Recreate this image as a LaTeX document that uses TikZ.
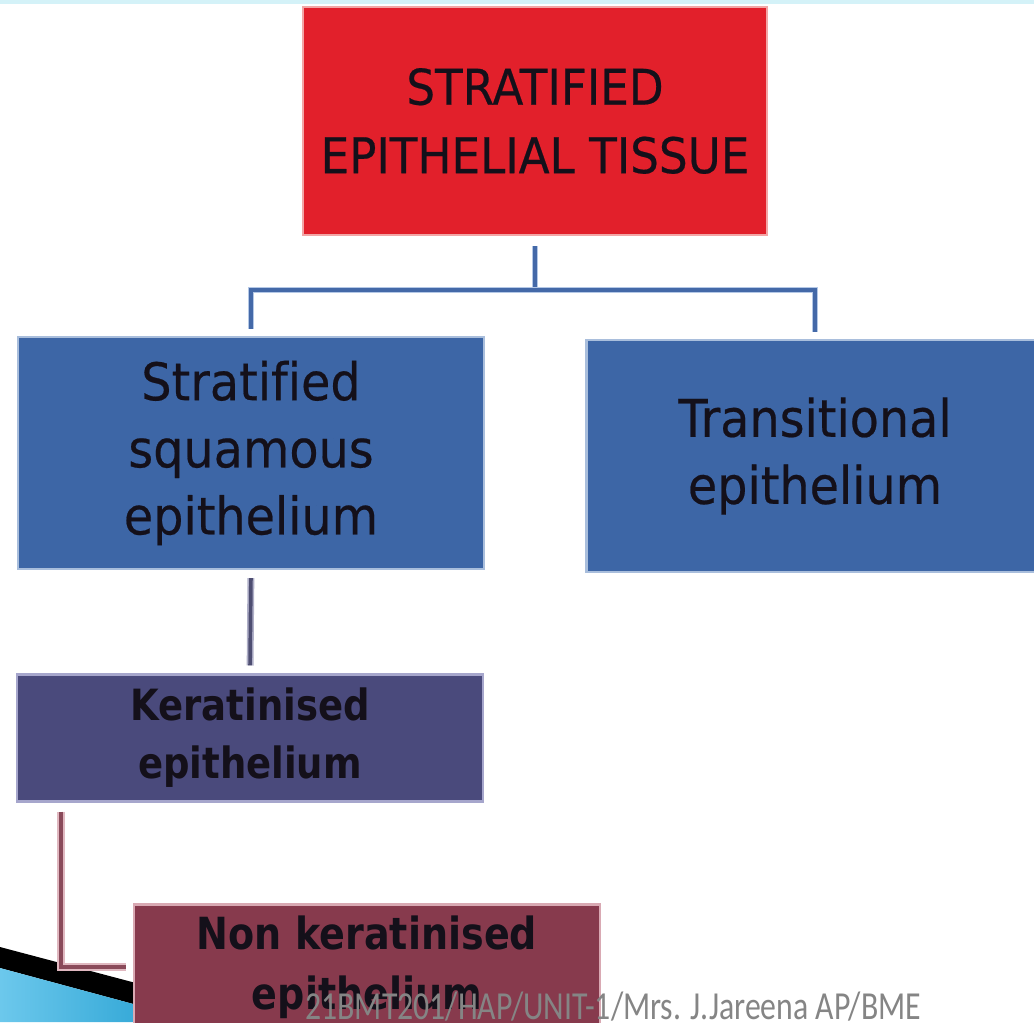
\documentclass[tikz,border=0pt]{standalone}
\usepackage{fontspec}
\usetikzlibrary{positioning}
\setmainfont{DejaVu Sans}
\newfontfamily\boxfont[FakeStretch=0.92,FakeBold=0.4,Ligatures=NoCommon]{DejaVu Sans}
\newfontfamily\boldboxfont[FakeStretch=0.86,Ligatures=NoCommon]{DejaVu Sans}
\newfontfamily\footfont[FakeStretch=0.8]{Carlito}
\definecolor{titleRed}{HTML}{E2202B}
\definecolor{titleRedEdge}{HTML}{F2A6A6}
\definecolor{tissueBlue}{HTML}{3D66A6}
\definecolor{tissueBlueEdge}{HTML}{A9BEDC}
\definecolor{keratPurple}{HTML}{4A4A7C}
\definecolor{keratPurpleEdge}{HTML}{A6A6CC}
\definecolor{nonkeratMaroon}{HTML}{873A4D}
\definecolor{nonkeratMaroonEdge}{HTML}{D9A9B3}
\definecolor{linkBlue}{HTML}{4469A8}
\definecolor{linkBlueEdge}{HTML}{B4C8E6}
\definecolor{linkSlate}{HTML}{4E4E72}
\definecolor{linkSlateEdge}{HTML}{B0B0C8}
\definecolor{linkMaroon}{HTML}{8A4A5A}
\definecolor{linkMaroonEdge}{HTML}{E0B8C0}
\definecolor{inkDark}{HTML}{14101A}
\definecolor{footGray}{HTML}{858585}
\definecolor{topCyan}{HTML}{D4F2F8}
\definecolor{wedgeCyan}{HTML}{1E9CCF}
\definecolor{wedgeCyanLight}{HTML}{6CC8EC}
\tikzset{
    titlebox/.style={draw=titleRedEdge,fill=titleRed,line width=1.2pt,inner sep=0pt,
        minimum width=9.28cm,minimum height=4.56cm,align=center,text=inkDark,
        font=\boxfont\fontsize{28}{39}\selectfont},
    bluebox/.style={draw=tissueBlueEdge,fill=tissueBlue,line width=1.2pt,inner sep=0pt,
        minimum width=9.32cm,minimum height=4.64cm,align=center,text=inkDark,
        font=\boxfont\fontsize{29.5}{38.2}\selectfont},
    keratbox/.style={draw=keratPurpleEdge,fill=keratPurple,line width=1.2pt,inner sep=0pt,
        minimum width=9.32cm,minimum height=2.54cm,align=center,text=inkDark,
        font=\boldboxfont\bfseries\fontsize{24.5}{32.9}\selectfont},
    nonkeratbox/.style={draw=nonkeratMaroonEdge,fill=nonkeratMaroon,line width=1.2pt,inner sep=0pt,
        minimum width=9.32cm,minimum height=2.5cm,align=center,text=inkDark,
        font=\boldboxfont\bfseries\fontsize{25.2}{34}\selectfont},
    blueline/.style={draw=linkBlue,line width=2.1pt,
        preaction={draw=linkBlueEdge,line width=3.9pt}},
    slateline/.style={draw=linkSlate,line width=2.1pt,
        preaction={draw=linkSlateEdge,line width=3.9pt}},
    maroonline/.style={draw=linkMaroon,line width=2.4pt,
        preaction={draw=linkMaroonEdge,line width=4.6pt}},
    footer/.style={text=footGray,inner sep=0pt,font=\footfont\fontsize{22.6}{26}\selectfont}
}
\begin{document}
\begin{tikzpicture}[x=0.02cm,y=-0.02cm]
    \useasboundingbox (0,0) rectangle (1034,1022);
    \clip (0,0) rectangle (1034,1022);
    \fill[white] (0,0) rectangle (1034,1022);
    \fill[topCyan] (0,0) rectangle (1034,4);
    % slide corner
    \fill[black] (0,947) -- (200,1000) -- (200,1022) -- (0,968) -- cycle;
    \shade[left color=wedgeCyanLight,right color=wedgeCyan] (0,968) -- (200,1022) -- (0,1022) -- cycle;

    \node[titlebox] (tissue) at (535,121) {STRATIFIED\\EPITHELIAL TISSUE};
    \node[bluebox] (squamous) at (251,453) {Stratified\\squamous\\epithelium};
    \node[bluebox,minimum width=9.14cm] (transitional) at (815,456) {Transitional\\epithelium};
    \node[keratbox] (keratinised) at (250,738) {Keratinised\\epithelium};
    \node[nonkeratbox] (nonkeratinised) at (367,967) {Non keratinised\\epithelium};

    \coordinate (split) at (535,290);
    \draw[blueline,shorten <=0.2cm] (tissue.south) -- (split);
    \draw[blueline,shorten >=0.14cm] (split) -| (squamous.north);
    \draw[blueline,shorten >=0.14cm] (split) -| (transitional.north);
    \draw[slateline,shorten <=0.16cm,shorten >=0.16cm] (squamous.south) -- (keratinised.north);
    \draw[maroonline,shorten >=0.14cm] ([xshift=0.9cm,yshift=-0.18cm]keratinised.south west)
        |- (nonkeratinised.west);

    \node[footer,anchor=base west] (credit) at (305,1019) {21BMT201/HAP/UNIT-1/Mrs. J.Jareena AP/BME};
\end{tikzpicture}
\end{document}
